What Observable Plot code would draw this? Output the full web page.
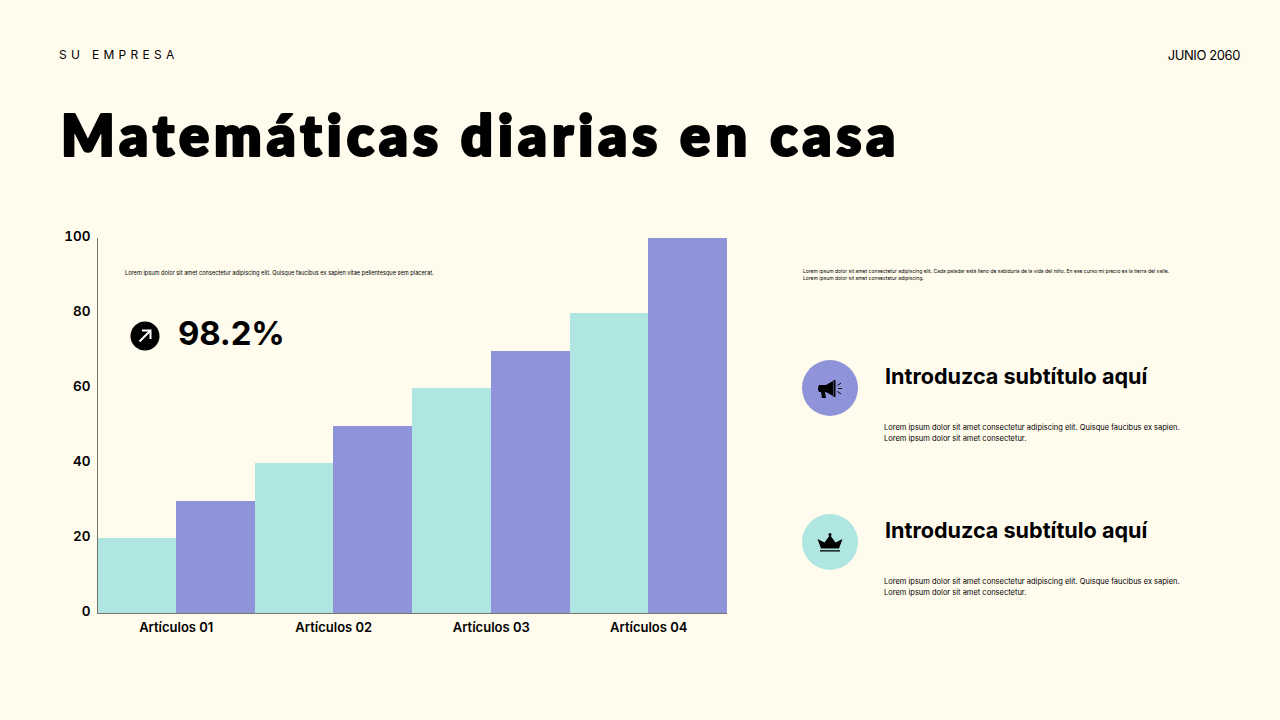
<!DOCTYPE html>
<html lang="es">
<head>
<meta charset="utf-8">
<script src="https://cdn.jsdelivr.net/npm/d3@7"></script>
<script src="https://cdn.jsdelivr.net/npm/@observablehq/plot@0.6"></script>
<style>
html,body{margin:0;padding:0;width:1280px;height:720px;background:#FFFBED;overflow:hidden;color:#000;font-family:Inter,"Liberation Sans",sans-serif}
.t{position:absolute;white-space:nowrap;margin:0}
#chart{position:absolute;left:40px;top:220px;width:700px;height:420px}
#chart svg{background:transparent;overflow:visible}
.ic{position:absolute;overflow:visible}
</style>
</head>
<body>
<div class="t" style="left:59px;top:47px;font-size:12px;line-height:16px;letter-spacing:4.3px">SU EMPRESA</div>
<div class="t" style="right:40px;top:47px;font-size:13px;line-height:17px;letter-spacing:-.4px">JUNIO 2060</div>
<svg class="ic" style="left:0;top:90px" width="1000" height="90" role="img" aria-label="Título">
  <text x="61" y="66" font-family="Lato, sans-serif" font-weight="800" font-size="56" letter-spacing="5" fill="#000" stroke="#000" stroke-width="2.2" stroke-linejoin="round" stroke-linecap="round">Matemáticas diarias en casa</text>
</svg>
<div id="chart"></div>
<div class="t" style="left:125px;top:269px;font-size:5.65px;line-height:9px">Lorem ipsum dolor sit amet consectetur adipiscing elit. Quisque faucibus ex sapien vitae pellentesque sem placerat.</div>
<svg class="ic" style="left:130px;top:321px" width="30" height="30" viewBox="0 0 30 30"><circle cx="15" cy="15" r="14.5" fill="#000"/><path d="M9.5 20.5 L20 10 M12 9.5 H20.5 V18" fill="none" stroke="#fff" stroke-width="2"/></svg>
<div class="t" style="left:178px;top:312px;font-size:33px;line-height:42px;font-weight:700;letter-spacing:-.2px">98.2%</div>
<div class="t" style="left:803px;top:267.5px;font-size:5px;line-height:7.5px">Lorem ipsum dolor sit amet consectetur adipiscing elit. Cada paladar está lleno de sabiduría de la vida del niño. En ese curso mi precio es la tierra del valle.<br>Lorem ipsum dolor sit amet consectetur adipiscing.</div>
<svg class="ic" style="left:802px;top:360px" width="56" height="56" viewBox="0 0 56 56"><circle cx="28" cy="28" r="28" fill="#8F93D9"/><path d="M17 25 H24 L31 21 V36 L24 32 H23 L24 38 H20 L19 32 H17 Q15 28.500 17 25Z M31.500 20 h2 v17 h-2z" fill="#000"/><path d="M35.500 25.500 L39 23 M36 28.500 H40 M35.500 31.500 L39 34" stroke="#000" stroke-width="1" fill="none"/></svg>
<div class="t" style="left:885px;top:362px;font-size:21.6px;line-height:28px;font-weight:700">Introduzca subtítulo aquí</div>
<div class="t" style="left:884px;top:421.5px;font-size:7.5px;line-height:11.5px">Lorem ipsum dolor sit amet consectetur adipiscing elit. Quisque faucibus ex sapien.<br>Lorem ipsum dolor sit amet consectetur.</div>
<svg class="ic" style="left:802px;top:514px" width="56" height="56" viewBox="0 0 56 56"><circle cx="28" cy="28" r="28" fill="#B0E6E2"/><path d="M19 34.500 L15.500 25 L22.500 28.500 L28 21 L33.500 28.500 L40.500 25 L37 34.500Z" fill="#000"/><circle cx="28" cy="20.500" r="1.500" fill="#000"/><rect x="18" y="36.200" width="20" height="1.300" fill="#000"/></svg>
<div class="t" style="left:885px;top:516px;font-size:21.6px;line-height:28px;font-weight:700">Introduzca subtítulo aquí</div>
<div class="t" style="left:884px;top:575.5px;font-size:7.5px;line-height:11.5px">Lorem ipsum dolor sit amet consectetur adipiscing elit. Quisque faucibus ex sapien.<br>Lorem ipsum dolor sit amet consectetur.</div>
<script>
const categories = ["Artículos 01", "Artículos 02", "Artículos 03", "Artículos 04"];
const seriesNames = ["A", "B"];
const seriesA = [20, 40, 60, 80];
const seriesB = [30, 50, 70, 100];
const yTicks = [0, 20, 40, 60, 80, 100];
const colors = ["#B0E6E2", "#8F93D9"];

const rows = categories.flatMap((c, i) => [
  {cat: c, s: seriesNames[0], v: seriesA[i]},
  {cat: c, s: seriesNames[1], v: seriesB[i]}
]);

const plot = Plot.plot({
  width: 700, height: 420,
  marginLeft: 57, marginRight: 13, marginTop: 18, marginBottom: 27,
  style: {background: "transparent", fontFamily: "Inter, sans-serif", color: "#000"},
  fx: {domain: categories, padding: 0, round: false, label: null},
  x: {domain: seriesNames, padding: 0, round: false, axis: null},
  y: {domain: [0, 100], label: null},
  color: {domain: seriesNames, range: colors},
  marks: [
    Plot.barY(rows, {fx: "cat", x: "s", y: "v", fill: "s", shapeRendering: "crispEdges"}),
    Plot.frame({anchor: "left", fx: [categories[0]], stroke: "#77746c", strokeOpacity: 1}),
    Plot.ruleY([0], {stroke: "#77746c"}),
    Plot.axisY({ticks: yTicks, tickSize: 0, tickPadding: 7, dy: -1.5, label: null, fontSize: 13.5, fontWeight: 600}),
    Plot.axisFx({tickSize: 0, tickPadding: 9, label: null, fontSize: 13, fontWeight: 600, anchor: "bottom"})
  ]
});
document.getElementById("chart").append(plot);
</script>
</body>
</html>
